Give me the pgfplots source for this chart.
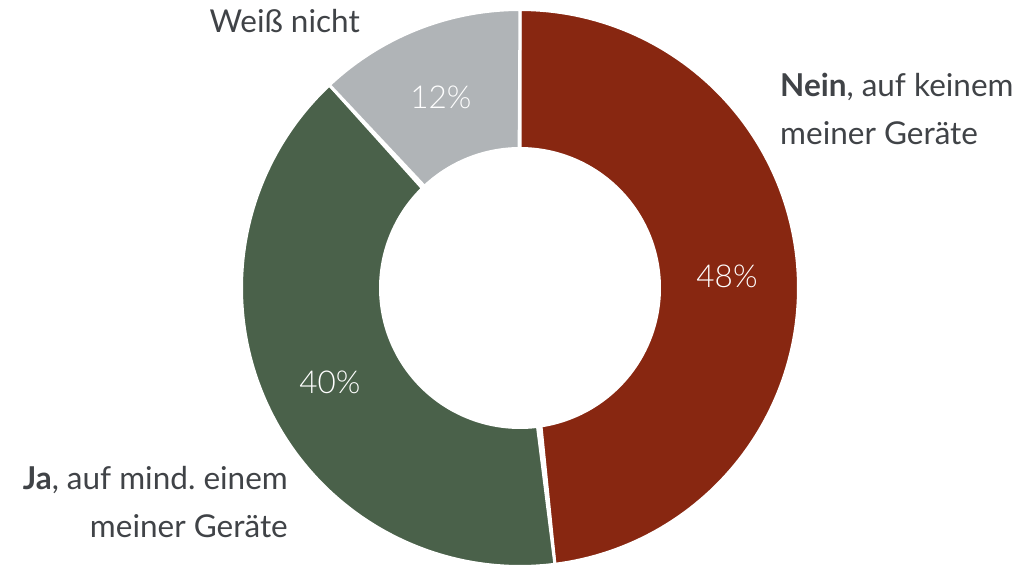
\documentclass[border=0pt]{standalone}
\usepackage{pgfplots}
\usepackage{pgfplotstable}
\pgfplotsset{compat=1.18}
\usepackage{fontspec}
\setmainfont{Lato}
\newfontfamily\lightfont{Lato Light}
\definecolor{cNein}{HTML}{882711}
\definecolor{cJa}{HTML}{4A614A}
\definecolor{cWeiss}{HTML}{B0B4B7}
\definecolor{txt}{HTML}{404347}
\pgfplotstableread{
label value
Nein 48
Ja 40
Weiss 12
}\datatable
\pgfplotstablegetelem{0}{value}\of\datatable\let\vA\pgfplotsretval
\pgfplotstablegetelem{1}{value}\of\datatable\let\vB\pgfplotsretval
\pgfplotstablegetelem{2}{value}\of\datatable\let\vC\pgfplotsretval
\pgfmathsetmacro\aZ{90}
\pgfmathsetmacro\aA{90-3.6*\vA}
\pgfmathsetmacro\aB{\aA-3.6*\vB}
\pgfmathsetmacro\aC{\aB-3.6*\vC}
\def\Ro{278.5}
\def\Ri{139.5}
\newcommand\sector[3]{%
\addplot[fill=#3, draw=white, line width=3pt, line join=miter, domain=0:2, samples=241, variable=\t]
 ({520+((\t<=1)?\Ro:\Ri)*cos(#1+((\t<=1)?\t:(2-\t))*(#2-#1))},
  {277+((\t<=1)?\Ro:\Ri)*sin(#1+((\t<=1)?\t:(2-\t))*(#2-#1))}) -- cycle;}
\frenchspacing
\begin{document}
\begin{tikzpicture}
\useasboundingbox (0,0) rectangle (1023pt,565pt);
\begin{axis}[scale only axis, width=1023pt, height=565pt,
  xmin=0, xmax=1023, ymin=0, ymax=565, hide axis, clip=false]
\sector{\aZ}{\aA}{cNein}
\sector{\aA}{\aB}{cJa}
\sector{\aB}{\aC}{cWeiss}
\begin{scope}[font=\fontsize{31.5}{38}\selectfont]
\node[white, anchor=center, font=\fontsize{31.5}{38}\selectfont\lightfont] at (axis cs:727,289) {48\%};
\node[white, anchor=center, font=\fontsize{31.5}{38}\selectfont\lightfont] at (axis cs:330,183) {40\%};
\node[white, anchor=center, font=\fontsize{31.5}{38}\selectfont\lightfont] at (axis cs:441,468) {12\%};
\node[txt, anchor=base west, inner sep=0pt] at (axis cs:780,468) {\textbf{Nein}, auf keinem};
\node[txt, anchor=base west, inner sep=0pt] at (axis cs:780,420) {meiner Geräte};
\node[txt, anchor=base east, inner sep=0pt] at (axis cs:360,532) {Weiß nicht};
\node[txt, anchor=base east, inner sep=0pt] at (axis cs:288,75) {\textbf{Ja}, auf mind. einem};
\node[txt, anchor=base east, inner sep=0pt] at (axis cs:288,27) {meiner Geräte};
\end{scope}
\end{axis}
\end{tikzpicture}
\end{document}
